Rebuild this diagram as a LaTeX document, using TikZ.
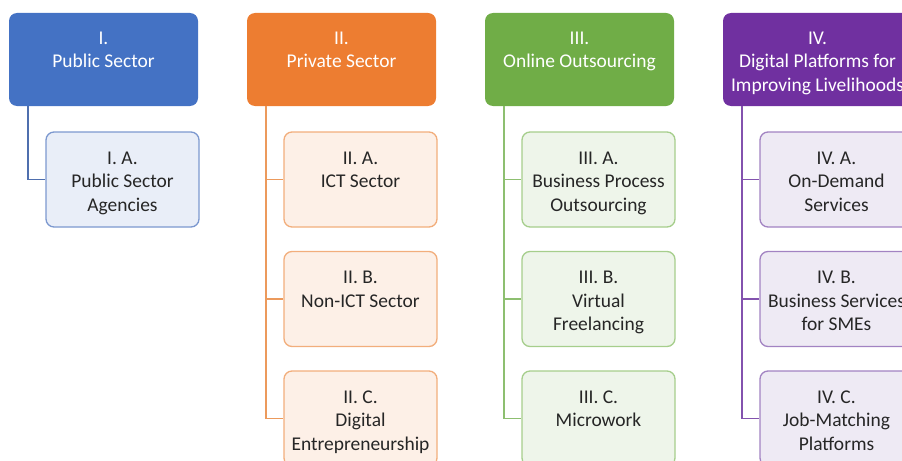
\documentclass[tikz,border=0pt]{standalone}
\usepackage{fontspec}
\setmainfont{Carlito}
\usepackage{xcolor}
\usetikzlibrary{calc}

\definecolor{pubDark}{HTML}{4472C4}
\definecolor{pubLine}{HTML}{4F6FAE}
\definecolor{pubEdge}{HTML}{7C98CF}
\definecolor{pubFill}{HTML}{E9EEF8}
\definecolor{prvDark}{HTML}{ED7D31}
\definecolor{prvLine}{HTML}{EC9A5C}
\definecolor{prvEdge}{HTML}{F2AE7C}
\definecolor{prvFill}{HTML}{FDF0E7}
\definecolor{onlDark}{HTML}{70AD47}
\definecolor{onlLine}{HTML}{8DBF70}
\definecolor{onlEdge}{HTML}{A6CE8C}
\definecolor{onlFill}{HTML}{EEF5EA}
\definecolor{digDark}{HTML}{7030A0}
\definecolor{digLine}{HTML}{8352AE}
\definecolor{digEdge}{HTML}{A283C2}
\definecolor{digFill}{HTML}{EEEAF4}
\definecolor{txtGray}{HTML}{262626}

\begin{document}
\begin{tikzpicture}[x=0.75pt,y=0.75pt,yscale=-1,
  hdbox/.style={rectangle,rounded corners=6pt,inner sep=0pt,minimum width=141.75pt,minimum height=69.75pt},
  subbox/.style={rectangle,rounded corners=6pt,draw,line width=1pt,inner sep=0pt,minimum width=114.75pt,minimum height=71.25pt},
  hdtext/.style={anchor=north,inner sep=0pt,align=center,text=white,font=\fontsize{14.6}{17.6}\selectfont},
  subtext/.style={anchor=north,inner sep=0pt,align=center,text=txtGray,font=\fontsize{14.6}{17.6}\selectfont},
  link/.style={line width=1.2pt}]
\useasboundingbox (0,0) rectangle (902,460);
\clip (0,0) rectangle (902,460);

% headers
\node [hdbox,fill=pubDark] (hdI) at (103.5,59.5) {};
\node [hdbox,fill=prvDark] (hdII) at (341.5,59.5) {};
\node [hdbox,fill=onlDark] (hdIII) at (579.5,59.5) {};
\node [hdbox,fill=digDark] (hdIV) at (817.5,59.5) {};

% sub boxes
\node [subbox,draw=pubEdge,fill=pubFill] (boxIA) at (122.5,179.5) {};
\node [subbox,draw=prvEdge,fill=prvFill] (boxIIA) at (360.5,179.5) {};
\node [subbox,draw=prvEdge,fill=prvFill] (boxIIB) at (360.5,299) {};
\node [subbox,draw=prvEdge,fill=prvFill] (boxIIC) at (360.5,418.5) {};
\node [subbox,draw=onlEdge,fill=onlFill] (boxIIIA) at (598.5,179.5) {};
\node [subbox,draw=onlEdge,fill=onlFill] (boxIIIB) at (598.5,299) {};
\node [subbox,draw=onlEdge,fill=onlFill] (boxIIIC) at (598.5,418.5) {};
\node [subbox,draw=digEdge,fill=digFill] (boxIVA) at (836.5,179.5) {};
\node [subbox,draw=digEdge,fill=digFill] (boxIVB) at (836.5,299) {};
\node [subbox,draw=digEdge,fill=digFill] (boxIVC) at (836.5,418.5) {};

% connectors
\draw [link,pubLine] ($(hdI.south west)+(19,0)$) |- (boxIA.west);
\draw [link,prvLine] ($(hdII.south west)+(19,0)$) |- (boxIIA.west);
\draw [link,prvLine] ($(hdII.south west)+(19,0)$) |- (boxIIB.west);
\draw [link,prvLine] ($(hdII.south west)+(19,0)$) |- (boxIIC.west);
\draw [link,onlLine] ($(hdIII.south west)+(19,0)$) |- (boxIIIA.west);
\draw [link,onlLine] ($(hdIII.south west)+(19,0)$) |- (boxIIIB.west);
\draw [link,onlLine] ($(hdIII.south west)+(19,0)$) |- (boxIIIC.west);
\draw [link,digLine] ($(hdIV.south west)+(19,0)$) |- (boxIVA.west);
\draw [link,digLine] ($(hdIV.south west)+(19,0)$) |- (boxIVB.west);
\draw [link,digLine] ($(hdIV.south west)+(19,0)$) |- (boxIVC.west);

% Text Node
\node [hdtext] (txtI) at ($(hdI.north)+(0,19)$) {I.\\Public Sector};
\node [hdtext] (txtII) at ($(hdII.north)+(0,19)$) {II.\\Private Sector};
\node [hdtext] (txtIII) at ($(hdIII.north)+(0,19)$) {III.\\Online Outsourcing};
\node [hdtext] (txtIV) at ($(hdIV.north)+(0,19)$) {IV.\\Digital Platforms for\\Improving Livelihoods};
% Text Node
\node [subtext] (txtIA) at ($(boxIA.north)+(0,20)$) {I. A.\\Public Sector\\Agencies};
\node [subtext] (txtIIA) at ($(boxIIA.north)+(0,20)$) {II. A.\\ICT Sector};
\node [subtext] (txtIIB) at ($(boxIIB.north)+(0,20)$) {II. B.\\Non-ICT Sector};
\node [subtext] (txtIIC) at ($(boxIIC.north)+(0,20)$) {II. C.\\Digital\\Entrepreneurship};
\node [subtext] (txtIIIA) at ($(boxIIIA.north)+(0,20)$) {III. A.\\Business Process\\Outsourcing};
\node [subtext] (txtIIIB) at ($(boxIIIB.north)+(0,20)$) {III. B.\\Virtual\\Freelancing};
\node [subtext] (txtIIIC) at ($(boxIIIC.north)+(0,20)$) {III. C.\\Microwork};
\node [subtext] (txtIVA) at ($(boxIVA.north)+(0,20)$) {IV. A.\\On-Demand\\Services};
\node [subtext] (txtIVB) at ($(boxIVB.north)+(0,20)$) {IV. B.\\Business Services\\for SMEs};
\node [subtext] (txtIVC) at ($(boxIVC.north)+(0,20)$) {IV. C.\\Job-Matching\\Platforms};

\end{tikzpicture}
\end{document}
